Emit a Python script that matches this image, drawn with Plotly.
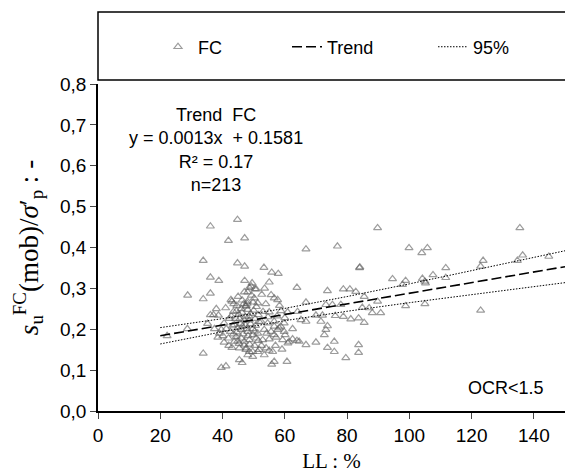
import plotly.graph_objects as go

# ---- data ----
ll_fc = [22.2, 28.7, 28.8, 33.8, 33.8, 33.8, 36.1, 36.1, 36.1, 36.1, 37.1, 38.8, 38.7, 39.6, 41.1, 41.9, 41.0, 43.0, 42.7, 43.6,
         37.4, 39.6, 41.2, 38.5, 40.1, 41.9, 43.0, 40.5, 42.2, 43.5, 42.5, 43.2, 39.0, 43.8, 42.0, 40.5, 35.2, 38.0, 42.8, 43.5,
         44.8, 47.1, 44.8, 47.1, 47.1, 49.5, 48.6, 50.4, 49.2, 48.1, 45.0, 51.3, 48.0, 47.6, 48.1, 47.5, 46.8, 47.9, 45.5, 47.0,
         48.6, 50.5, 43.8, 44.9, 46.0, 48.1, 49.7, 51.3, 44.4, 46.0, 47.0, 48.6, 50.8, 45.4, 47.6, 48.6, 49.7, 51.8, 48.1, 49.7,
         45.4, 46.3, 47.5, 51.3, 50.2, 50.8, 44.5, 45.2, 46.2, 49.0, 50.0, 51.5, 44.2, 45.8, 47.4, 49.0, 50.6, 51.8, 44.6, 46.6,
         48.2, 49.8, 51.5, 45.3, 46.9, 48.7, 50.3, 44.9, 47.3, 48.5, 50.9, 46.3, 49.3, 47.0, 46.0, 44.6, 49.8, 47.8, 50.3, 46.4,
         53.3, 55.8, 57.9, 55.0, 53.5, 55.6, 56.6, 57.7, 53.0, 55.0, 58.8, 60.9, 52.4, 54.5, 56.6, 53.4, 55.6, 57.7, 59.8, 62.5,
         52.9, 55.0, 57.2, 59.3, 61.4, 54.0, 56.1, 53.4, 56.6, 55.8, 60.7, 59.1, 55.0, 59.8, 58.7, 56.6, 58.2, 56.6, 60.1, 62.5,
         61.0, 52.5, 54.6, 57.5, 53.9, 52.6, 58.3, 60.0, 54.2, 57.0,
         63.9, 66.8, 66.8, 64.1, 65.2, 66.8, 64.6, 66.8, 63.9, 70.0, 72.1, 71.6, 70.0, 73.7, 73.2, 75.3, 73.7, 73.2, 72.7, 73.7,
         75.9, 75.9, 76.9, 76.2, 78.8, 78.0, 78.8, 80.9, 81.2, 79.6, 82.8, 84.0, 84.1, 83.7, 83.7, 83.7, 85.5, 85.5, 84.9, 87.1,
         88.1, 89.8, 89.8, 90.8, 94.6, 98.8, 97.8, 98.8, 99.9, 104.0, 105.8, 104.2, 105.0, 105.2, 107.6, 111.7, 111.7, 105.0,
         122.9, 123.7, 122.9, 134.7, 136.4, 135.5, 144.8]
su_fc = [0.184, 0.201, 0.283, 0.274, 0.368, 0.141, 0.452, 0.327, 0.288, 0.235, 0.235, 0.319, 0.234, 0.106, 0.110, 0.417, 0.252, 0.268, 0.272, 0.262,
         0.201, 0.199, 0.201, 0.180, 0.184, 0.178, 0.155, 0.215, 0.226, 0.243, 0.194, 0.208, 0.190, 0.170, 0.160, 0.168, 0.214, 0.250, 0.232, 0.188,
         0.468, 0.423, 0.362, 0.354, 0.319, 0.313, 0.302, 0.299, 0.305, 0.291, 0.280, 0.264, 0.268, 0.258, 0.248, 0.256, 0.262, 0.263, 0.225, 0.222,
         0.222, 0.226, 0.211, 0.203, 0.199, 0.194, 0.201, 0.190, 0.182, 0.178, 0.170, 0.174, 0.178, 0.154, 0.154, 0.145, 0.145, 0.150, 0.137, 0.133,
         0.125, 0.118, 0.150, 0.145, 0.276, 0.298, 0.245, 0.236, 0.241, 0.238, 0.246, 0.235, 0.226, 0.214, 0.210, 0.213, 0.209, 0.218, 0.193, 0.188,
         0.184, 0.186, 0.172, 0.165, 0.161, 0.163, 0.160, 0.171, 0.230, 0.232, 0.255, 0.271, 0.283, 0.291, 0.250, 0.258, 0.266, 0.201, 0.195, 0.207,
         0.351, 0.339, 0.336, 0.315, 0.300, 0.284, 0.276, 0.272, 0.243, 0.242, 0.245, 0.242, 0.219, 0.215, 0.219, 0.199, 0.194, 0.199, 0.194, 0.201,
         0.174, 0.176, 0.180, 0.174, 0.170, 0.154, 0.145, 0.137, 0.121, 0.114, 0.121, 0.151, 0.148, 0.215, 0.207, 0.207, 0.203, 0.186, 0.186, 0.176,
         0.166, 0.160, 0.230, 0.232, 0.262, 0.285, 0.258, 0.228, 0.190, 0.160,
         0.302, 0.396, 0.266, 0.243, 0.223, 0.219, 0.170, 0.162, 0.172, 0.234, 0.234, 0.219, 0.168, 0.294, 0.260, 0.260, 0.208, 0.199, 0.186, 0.155,
         0.170, 0.145, 0.403, 0.233, 0.231, 0.260, 0.298, 0.298, 0.225, 0.130, 0.292, 0.350, 0.352, 0.227, 0.162, 0.143, 0.280, 0.216, 0.253, 0.252,
         0.240, 0.448, 0.268, 0.240, 0.323, 0.319, 0.309, 0.257, 0.399, 0.387, 0.399, 0.324, 0.317, 0.313, 0.333, 0.350, 0.326, 0.262,
         0.354, 0.368, 0.246, 0.368, 0.381, 0.448, 0.378]

trend_slope = 0.0013
trend_intercept = 0.1581
trend_x = [20, 150]

band_x = [20, 40, 60, 80, 100, 120, 150]
band_upper = [0.204, 0.226, 0.251, 0.280, 0.311, 0.343, 0.392]
band_lower = [0.164, 0.194, 0.221, 0.244, 0.265, 0.285, 0.314]

x_ticks = [0, 20, 40, 60, 80, 100, 120, 140]
y_ticks = [0.0, 0.1, 0.2, 0.3, 0.4, 0.5, 0.6, 0.7, 0.8]

SANS = "Liberation Sans, Arial, sans-serif"
SERIF = "Liberation Serif, Times New Roman, serif"

fig = go.Figure()

fig.add_trace(go.Scatter(
    x=ll_fc, y=su_fc, mode="markers", name="FC",
    marker=dict(symbol="triangle-up-open", size=7, color="rgba(90,90,90,0.6)",
                line=dict(width=1.2)),
    legendwidth=84,
))

fig.add_trace(go.Scatter(
    x=trend_x, y=[trend_slope * v + trend_intercept for v in trend_x],
    mode="lines", name="Trend",
    line=dict(color="black", width=1.6, dash="10px,4px"),
    legendwidth=101,
))

fig.add_trace(go.Scatter(
    x=band_x, y=band_upper, mode="lines", name="95%", legendgroup="band",
    line=dict(color="black", width=1, dash="1.5px,1.5px"),
))
fig.add_trace(go.Scatter(
    x=band_x, y=band_lower, mode="lines", name="95%", legendgroup="band",
    showlegend=False,
    line=dict(color="black", width=1, dash="1.5px,1.5px"),
))

fig.update_layout(
    width=565, height=473,
    margin=dict(l=98, r=0, t=84, b=62),
    paper_bgcolor="white", plot_bgcolor="white",
    separators=",.",
    font=dict(family=SANS, size=19, color="black"),
    showlegend=True,
    legend=dict(orientation="h", x=(158 - 98) / 467, xanchor="left", y=1.113, yanchor="middle",
                bgcolor="rgba(0,0,0,0)", borderwidth=0, font=dict(size=18, family=SANS)),
    xaxis=dict(range=[0, 150], tickvals=x_ticks, ticks="outside", ticklen=6, tickwidth=1.2,
               showline=True, linecolor="black", linewidth=1.5, showgrid=False, zeroline=False,
               automargin=False, tickfont=dict(size=19, family=SANS),
               title=dict(text="LL : %", font=dict(family=SERIF, size=21), standoff=10)),
    yaxis=dict(range=[0, 0.8], tickvals=y_ticks, tickformat=".1f", ticks="outside", ticklen=6,
               tickwidth=1.2, showline=True, linecolor="black", linewidth=1.5, showgrid=False,
               zeroline=False, automargin=False, tickfont=dict(size=19, family=SANS),
               title=dict(text="<i>s</i><sub>u</sub><sup>FC</sup>(mob)/<i>σ</i>′<sub>p</sub> : -",
                          font=dict(family=SERIF, size=27), standoff=14)),
    shapes=[dict(type="rect", xref="paper", yref="paper", x0=0, x1=1.02, y0=1.0122, y1=1.2202,
                 line=dict(color="black", width=1.5), fillcolor="rgba(0,0,0,0)")],
    annotations=[
        dict(text="Trend  FC<br>y = 0.0013x  + 0.1581<br>R² = 0.17<br>n=213",
             xref="paper", yref="paper", x=(216 - 98) / 467, y=(411 - 150) / 327,
             xanchor="center", yanchor="middle", showarrow=False, align="center",
             font=dict(family=SANS, size=18)),
        dict(text="OCR<1.5", xref="paper", yref="paper", x=(506 - 98) / 467, y=(411 - 388) / 327,
             xanchor="center", yanchor="middle", showarrow=False, font=dict(family=SANS, size=18)),
    ],
)

fig.write_html("out.html", config={"displayModeBar": False},
               post_script="document.body.style.margin='0';document.body.style.overflow='hidden';")
